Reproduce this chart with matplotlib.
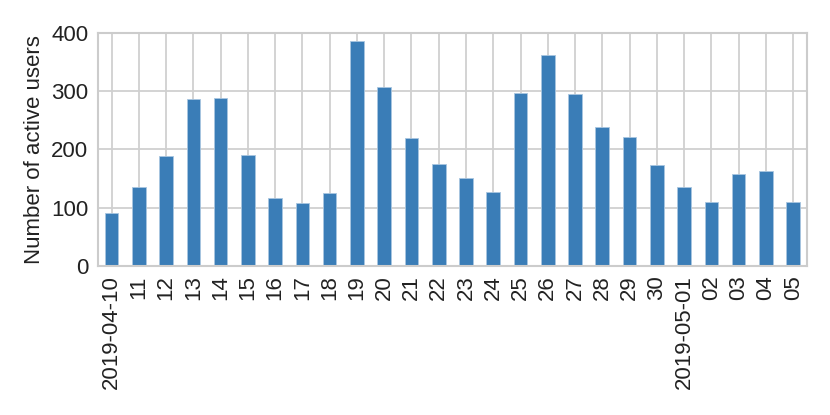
import matplotlib
matplotlib.use("Agg")
import matplotlib.pyplot as plt
import seaborn as sns
import numpy as np

# active users per day
dates = ["2019-04-10", "11", "12", "13", "14", "15", "16", "17", "18", "19",
         "20", "21", "22", "23", "24", "25", "26", "27", "28", "29", "30",
         "2019-05-01", "02", "03", "04", "05"]
users = [91, 135, 189, 286, 288, 190, 116, 107, 125, 387, 307, 219, 175,
         150, 126, 297, 362, 295, 238, 222, 173, 136, 110, 157, 163, 109]

sns.set_style("whitegrid")
plt.rcParams['font.family'] = ['Liberation Sans', 'DejaVu Sans']

fig, ax = plt.subplots(figsize=(8.3, 4.15), dpi=100)
x = np.arange(len(dates))
ax.bar(x, users, width=0.5, color="#3a7db7", edgecolor="#a9c6e0", linewidth=0.6)

ax.set_xticks(x)
ax.set_xticklabels(dates, rotation=90, fontsize=16, color="#222222")
ax.set_xlim(-0.5, len(dates) - 0.5)
ax.set_ylim(0, 400)
ax.set_yticks([0, 100, 200, 300, 400])
ax.tick_params(axis='y', labelsize=16, labelcolor="#222222")
ax.set_ylabel("Number of active users", fontsize=16, color="#222222")
ax.grid(True, color="#d0d0d0", linewidth=1.3)
for s in ax.spines.values():
    s.set_color("#cccccc")
    s.set_linewidth(1.5)

plt.subplots_adjust(left=0.118, right=0.972, top=0.92, bottom=0.36)
plt.savefig("out.png", dpi=100)
